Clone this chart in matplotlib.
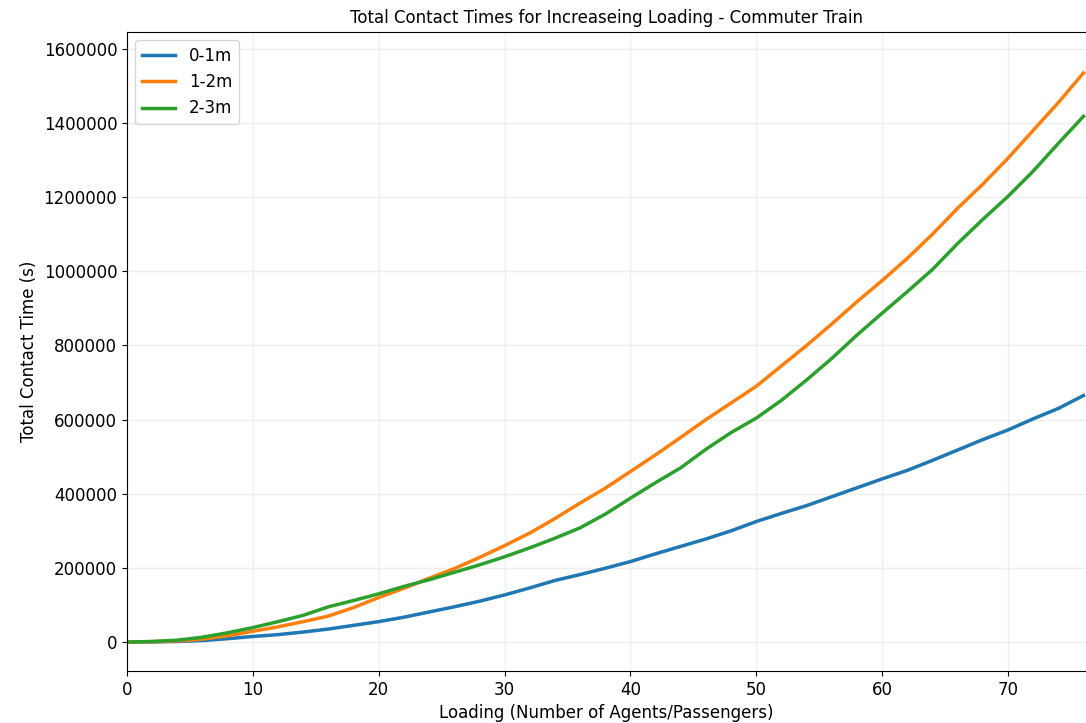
import matplotlib

matplotlib.use("Agg")
import matplotlib.pyplot as plt

# Loading (number of agents/passengers)
loading = [0, 2, 4, 6, 8, 10, 12, 14, 16, 18, 20, 22, 24, 26, 28, 30, 32, 34, 36, 38,
           40, 42, 44, 46, 48, 50, 52, 54, 56, 58, 60, 62, 64, 66, 68, 70, 72, 74, 76]

# Total contact time (s) per distance band
contact_0_1m = [0, 500, 1500, 4000, 9000, 15000, 20000, 27000, 35000, 45000, 55000, 67000,
                81000, 95000, 110000, 127000, 146000, 166000, 182000, 199000, 217000,
                238000, 258000, 278000, 300000, 325000, 347000, 368000, 392000, 416000,
                440000, 463000, 490000, 518000, 546000, 572000, 602000, 630000, 665000]
contact_1_2m = [0, 1000, 3000, 8000, 17000, 29000, 41000, 55000, 70000, 93000, 120000, 145000,
                172000, 198000, 228000, 260000, 294000, 333000, 375000, 415000, 460000,
                505000, 552000, 600000, 645000, 690000, 745000, 800000, 858000, 918000,
                975000, 1035000, 1100000, 1170000, 1235000, 1305000, 1380000, 1455000, 1535000]
contact_2_3m = [0, 1500, 5000, 13000, 25000, 39000, 55000, 72000, 95000, 112000, 130000, 150000,
                168000, 188000, 208000, 230000, 254000, 280000, 308000, 345000, 388000,
                430000, 470000, 520000, 565000, 604000, 652000, 707000, 765000, 828000,
                887000, 945000, 1005000, 1075000, 1140000, 1202000, 1270000, 1345000, 1418000]

fig = plt.figure(figsize=(10.86, 7.23), dpi=100)
ax = fig.add_axes([0.117, 0.072, 0.883, 0.884])

ax.plot(loading, contact_0_1m, color="#1f77b4", linewidth=2.5, label="0-1m")
ax.plot(loading, contact_1_2m, color="#ff7f0e", linewidth=2.5, label="1-2m")
ax.plot(loading, contact_2_3m, color="#2ca02c", linewidth=2.5, label="2-3m")

ax.set_xlim(0, 76.2)
ax.set_ylim(-78000, 1646000)
ax.set_xticks([0, 10, 20, 30, 40, 50, 60, 70])
ax.set_yticks(range(0, 1600001, 200000))
ax.ticklabel_format(axis="y", style="plain", useOffset=False)
ax.tick_params(labelsize=12)
ax.spines["right"].set_visible(False)
ax.grid(color="#efefef", linewidth=1.0)
ax.set_axisbelow(True)

ax.set_title("Total Contact Times for Increaseing Loading - Commuter Train", fontsize=12)
ax.set_xlabel("Loading (Number of Agents/Passengers)", fontsize=12)
ax.set_ylabel("Total Contact Time (s)", fontsize=12)
ax.legend(loc="upper left", fontsize=12)

fig.savefig("out.png", dpi=100)
